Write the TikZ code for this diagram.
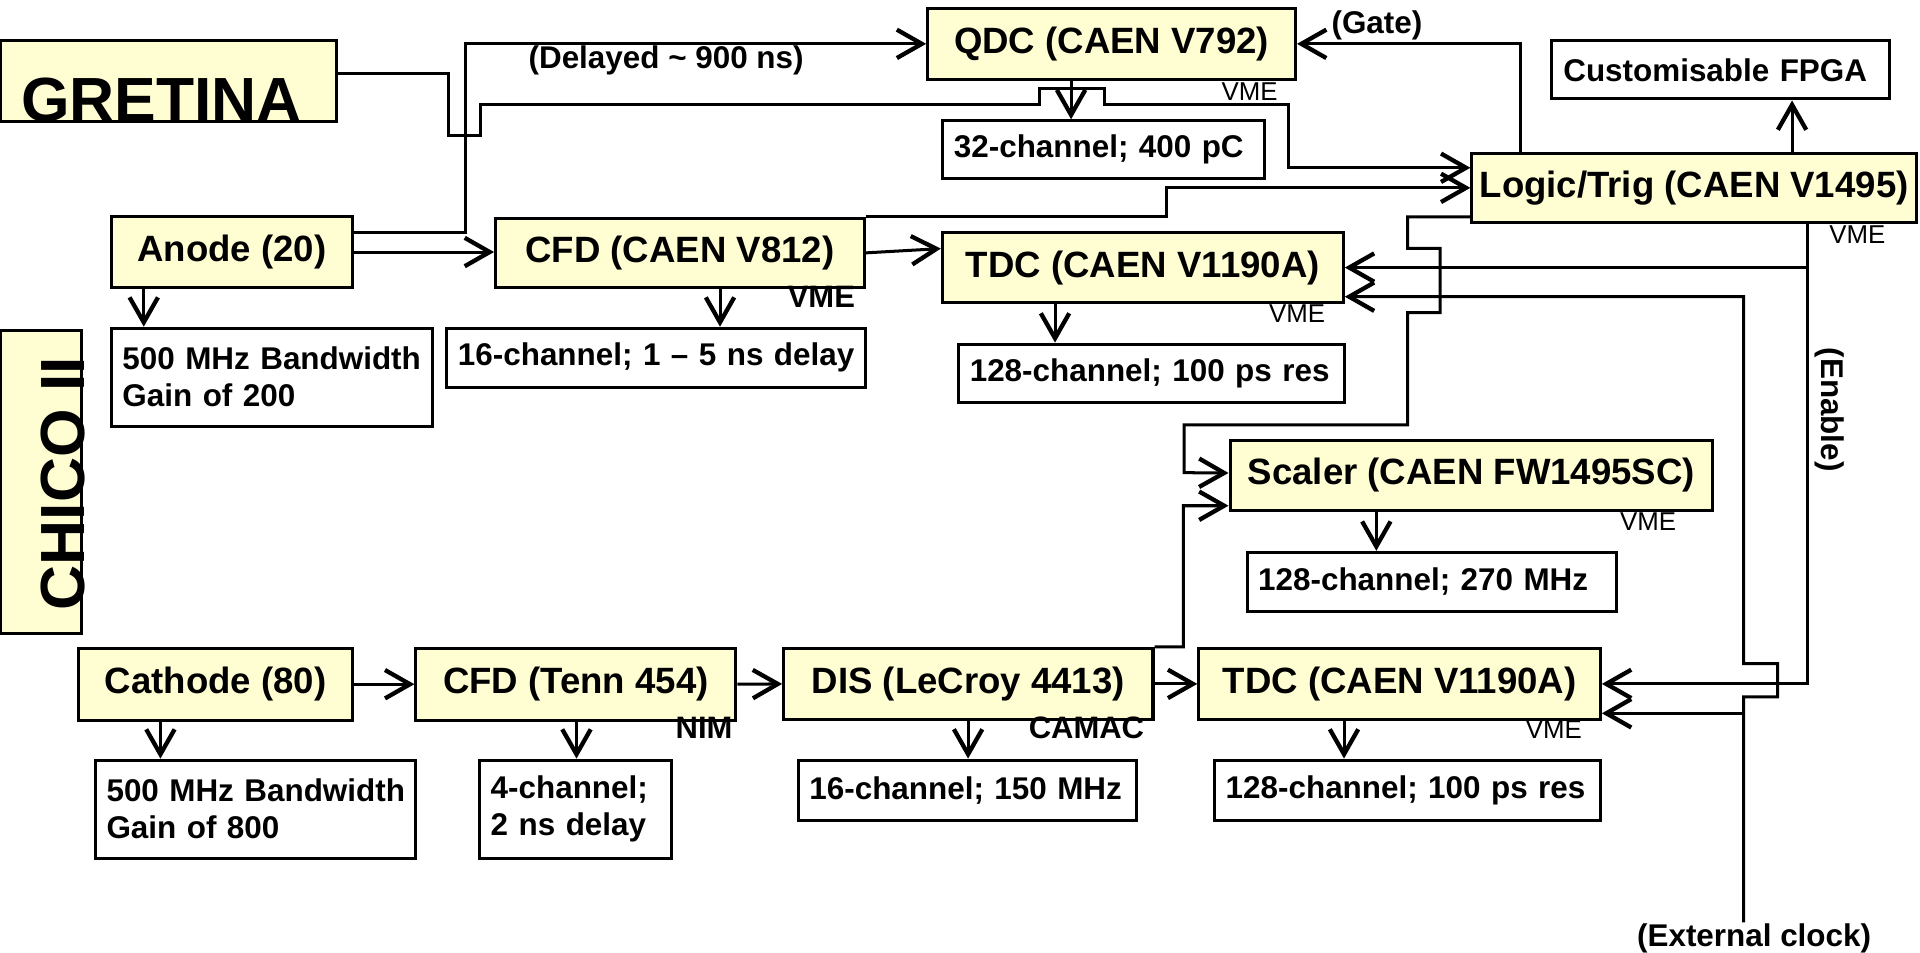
\documentclass[tikz,border=0pt]{standalone}
\usepackage{fontspec}
\setmainfont{Liberation Sans}
\usepackage{tikz}
\usetikzlibrary{arrows.meta}
\definecolor{boxfill}{RGB}{255,253,210}

\begin{document}
\begin{tikzpicture}[
    line width=0.7pt,
    arr/.style={-{Straight Barb[length=5.8pt,width=6.6pt,line width=1pt]}},
    unit/.style={draw, fill=boxfill, inner sep=0pt, font=\fontsize{8.5}{10}\selectfont\bfseries},
    info/.style={draw, fill=white, inner xsep=0.09cm, inner ysep=0pt, align=left, font=\fontsize{7.3}{8.6}\selectfont\bfseries},
    tag/.style={inner sep=0pt, font=\fontsize{7.3}{8.6}\selectfont\bfseries},
    bus/.style={inner sep=0pt, font=\fontsize{6}{7}\selectfont},
    crate/.style={inner sep=0pt, font=\fontsize{7.2}{8}\selectfont\bfseries},
    big/.style={inner sep=0pt, font=\fontsize{14.5}{16}\selectfont\bfseries}
  ]
  \useasboundingbox (0,0) rectangle (15.68,-7.78);

  % detectors
  \node[unit, minimum width=2.745cm, minimum height=0.662cm] (gretina) at (1.3725,-0.663) {};
  \node[big, anchor=base west] (gretinaLbl) at (0.16,-0.994) {GRETINA};
  \node[unit, minimum width=0.663cm, minimum height=2.475cm] (chico) at (0.3315,-3.9325) {};
  \node[big, rotate=90, anchor=base] (chicoLbl) at (0.69,-3.95) {CHICO II};

  % modules
  \node[unit, minimum width=1.97cm, minimum height=0.576cm] (anode) at (1.895,-2.058) {Anode (20)};
  \node[unit, minimum width=3.01cm, minimum height=0.563cm] (cfdA) at (5.552,-2.065) {CFD (CAEN V812)};
  \node[unit, minimum width=3.004cm, minimum height=0.58cm] (qdc) at (9.078,-0.358) {QDC (CAEN V792)};
  \node[unit, minimum width=3.275cm, minimum height=0.57cm] (tdcA) at (9.333,-2.185) {TDC (CAEN V1190A)};
  \node[unit, minimum width=3.63cm, minimum height=0.568cm] (logic) at (13.835,-1.534) {Logic/Trig (CAEN V1495)};
  \node[unit, minimum width=3.943cm, minimum height=0.565cm] (scaler) at (12.0165,-3.8825) {Scaler (CAEN FW1495SC)};
  \node[unit, minimum width=2.23cm, minimum height=0.585cm] (cathode) at (1.76,-5.5875) {Cathode (80)};
  \node[unit, minimum width=2.614cm, minimum height=0.585cm] (cfdB) at (4.703,-5.5875) {CFD (Tenn 454)};
  \node[unit, minimum width=3.016cm, minimum height=0.58cm] (dis) at (7.908,-5.585) {DIS (LeCroy 4413)};
  \node[unit, minimum width=3.28cm, minimum height=0.58cm] (tdcB) at (11.43,-5.585) {TDC (CAEN V1190A)};

  % specs
  \node[info, text width=2.44cm, minimum height=0.8cm] (anodeInfo) at (2.22,-3.08) {\mbox{500 MHz Bandwidth}\\\mbox{Gain of 200}};
  \node[info, text width=3.235cm, minimum height=0.483cm] (cfdAInfo) at (5.3575,-2.9215) {\mbox{16-channel; 1 -- 5 ns delay}};
  \node[info, text width=2.448cm, minimum height=0.474cm] (qdcInfo) at (9.014,-1.223) {\mbox{32-channel; 400 pC}};
  \node[info, text width=2.966cm, minimum height=0.48cm] (tdcAInfo) at (9.403,-3.05) {\mbox{128-channel; 100 ps res}};
  \node[info, text width=2.56cm, inner xsep=0.1cm, minimum height=0.476cm] (fpga) at (14.047,-0.57) {\mbox{Customisable FPGA}};
  \node[info, text width=2.835cm, minimum height=0.48cm] (scalerInfo) at (11.6925,-4.75) {\mbox{128-channel; 270 MHz}};
  \node[info, text width=2.436cm, minimum height=0.8cm] (cathodeInfo) at (2.088,-6.6075) {\mbox{500 MHz Bandwidth}\\\mbox{Gain of 800}};
  \node[info, text width=1.39cm, minimum height=0.8cm] (cfdBInfo) at (4.7025,-6.6075) {\mbox{4-channel;}\\\mbox{2 ns delay}};
  \node[info, text width=2.58cm, minimum height=0.49cm] (disInfo) at (7.90,-6.452) {\mbox{16-channel; 150 MHz}};
  \node[info, text width=2.97cm, minimum height=0.49cm] (tdcBInfo) at (11.495,-6.452) {\mbox{128-channel; 100 ps res}};

  % signal labels
  \node[tag] (delayLbl) at (5.44,-0.496) {(Delayed \textasciitilde{} 900 ns)};
  \node[tag] (gateLbl) at (11.245,-0.21) {(Gate)};
  \node[tag, rotate=-90] (enableLbl) at (14.94,-3.345) {(Enable)};
  \node[tag] (clkLbl) at (14.325,-7.665) {(External clock)};
  \coordinate (clkTap) at (14.24,-5.825);

  % upper chain
  \draw[arr] (anode.east) -- (anode.east -| cfdA.west);
  \draw[arr] (cfdA.east) -- ([yshift=0.155cm]tdcA.west);
  \draw[arr] ([yshift=0.158cm]anode.east) -- ++(0.908,0) |- (qdc.west);
  \draw[arr] ([yshift=0.064cm]gretina.east) -| (3.663,-1.11) -| (3.92,-0.857) -| (8.49,-0.72) -| (9.016,-0.857) -| (10.52,-1.37) -- ([yshift=0.164cm]logic.west);
  \draw[arr] (cfdA.north east) -| (9.528,-1.534) -- (logic.west);
  \draw[arr] (logic.north -| 12.415,0) |- (qdc.east);
  \draw[arr] (logic.north -| 14.635,0) -- (fpga.south -| 14.635,0);
  \draw[arr] ([yshift=-0.236cm]logic.west) -| (11.496,-2.028) -| (11.76,-2.553) -| (11.496,-3.47) -| (9.67,-3.86) -- ([yshift=0.02cm]scaler.west);
  \draw[arr] (logic.south -| 14.76,0) |- (tdcB.east);
  \draw[arr] (tdcA.east -| 14.76,0) -- (tdcA.east);
  \draw[arr] (clkLbl.north -| 14.24,0) -- (14.24,-5.69) -| (14.517,-5.42) -| (14.24,-2.423) -- ([yshift=-0.238cm]tdcA.east);
  \draw[arr] (clkTap) -- (clkTap -| tdcB.east);

  % lower chain
  \draw[arr] (cathode.east) -- (cfdB.west);
  \draw[arr] (cfdB.east) -- (dis.west);
  \draw[arr] (dis.east) -- (tdcB.west);
  \draw[arr] (dis.north east) -| (9.665,-4.13) -- ([yshift=-0.2475cm]scaler.west);

  % to specs
  \draw[arr] (anode.south -| 1.174,0) -- (anodeInfo.north -| 1.174,0);
  \draw[arr] (cfdA.south -| 5.88,0) -- (cfdAInfo.north -| 5.88,0);
  \draw[arr] (qdc.south -| 8.747,0) -- (qdcInfo.north -| 8.747,0);
  \draw[arr] (tdcA.south -| 8.616,0) -- (tdcAInfo.north -| 8.616,0);
  \draw[arr] (scaler.south -| 11.24,0) -- (scalerInfo.north -| 11.24,0);
  \draw[arr] (cathode.south -| 1.31,0) -- (cathodeInfo.north -| 1.31,0);
  \draw[arr] (cfdB.south -| 4.708,0) -- (cfdBInfo.north -| 4.708,0);
  \draw[arr] (dis.south -| 7.906,0) -- (disInfo.north -| 7.906,0);
  \draw[arr] (tdcB.south -| 10.976,0) -- (tdcBInfo.north -| 10.976,0);

  % crates
  \node[crate] (cfdACrate) at (6.708,-2.423) {VME};
  \node[bus] (qdcCrate) at (10.205,-0.745) {VME};
  \node[bus] (tdcACrate) at (10.593,-2.565) {VME};
  \node[bus] (logicCrate) at (15.1675,-1.918) {VME};
  \node[bus] (scalerCrate) at (13.46,-4.26) {VME};
  \node[bus] (tdcBCrate) at (12.69,-5.96) {VME};
  \node[crate] (cfdBCrate) at (5.75,-5.945) {NIM};
  \node[crate] (disCrate) at (8.8725,-5.94) {CAMAC};
\end{tikzpicture}
\end{document}
